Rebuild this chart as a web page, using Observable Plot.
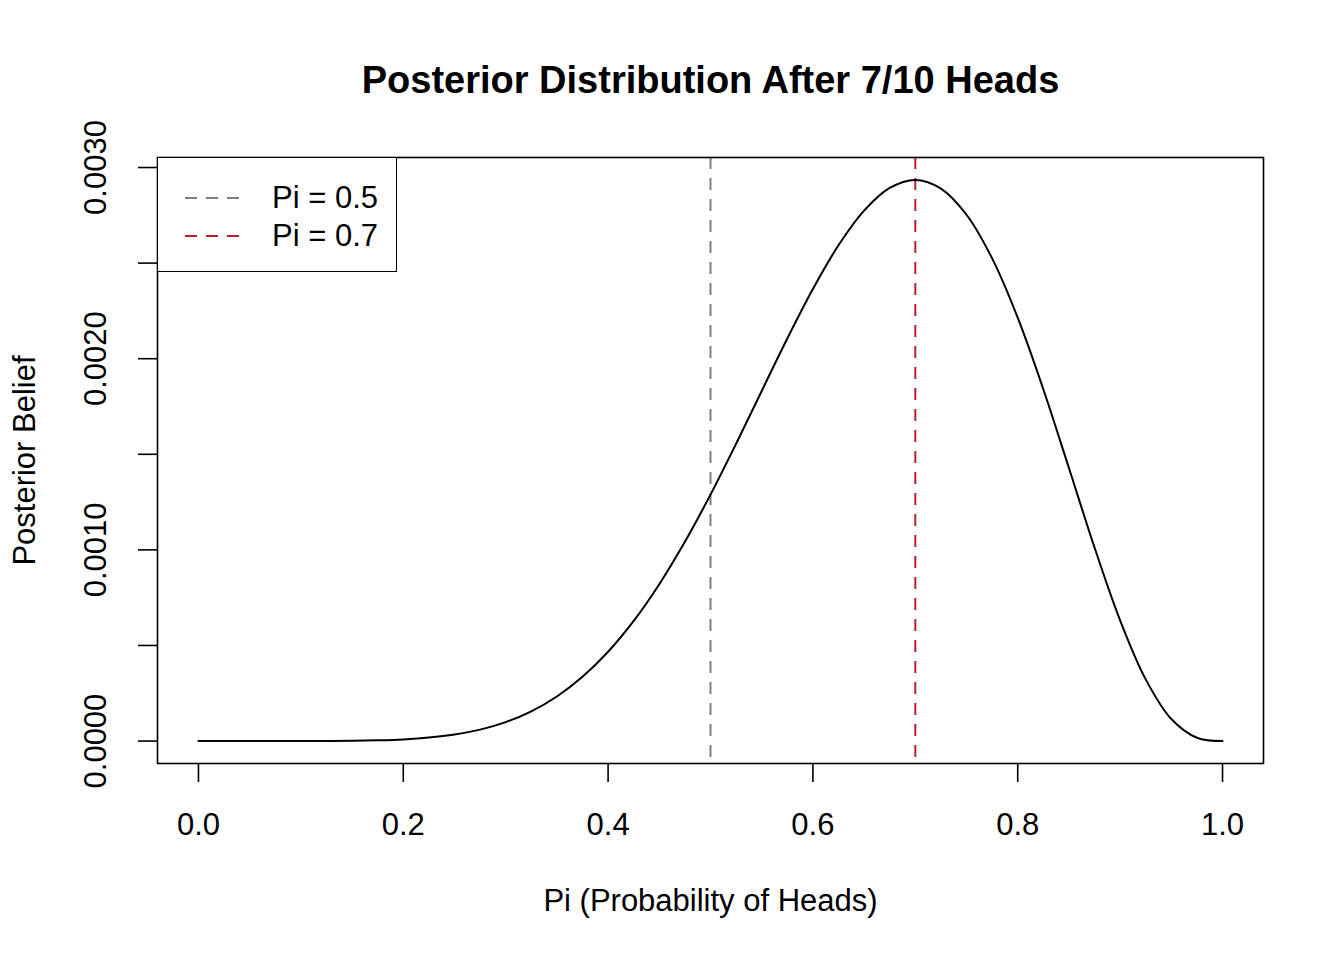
<!DOCTYPE html>
<html>
<head>
<meta charset="utf-8">
<script src="https://cdn.jsdelivr.net/npm/d3@7"></script>
<script src="https://cdn.jsdelivr.net/npm/@observablehq/plot@0.6"></script>
<style>
  html, body { margin: 0; padding: 0; background: #fff; }
  #wrap { position: relative; width: 1344px; height: 960px; font-family: "Liberation Sans", Arial, Helvetica, sans-serif; }
  #legend { position: absolute; left: 157px; top: 157px; width: 238px; height: 113px; border: 1.5px solid #000; background: #fff; box-sizing: content-box; }
  .lg-row { position: absolute; left: 0; display: flex; align-items: center; font-size: 31px; line-height: 1; }
  .lg-row svg { margin-left: 27px; margin-right: 31px; }
</style>
</head>
<body>
<div id="wrap"></div>
<script>
// Grid of pi values and posterior belief
const piGrid = [0.000,0.025,0.050,0.075,0.100,0.125,0.150,0.175,0.200,0.225,0.250,0.275,0.300,0.325,0.350,0.375,0.400,0.425,0.450,0.475,0.500,0.525,0.550,0.575,0.600,0.625,0.650,0.675,0.700,0.725,0.750,0.775,0.800,0.825,0.850,0.875,0.900,0.925,0.950,0.975,1.000];
const posterior = [0,0,0,0,0.0000001,0.0000004,0.0000014,0.0000040,0.0000087,0.0000181,0.0000340,0.0000598,0.0000990,0.0001555,0.0002332,0.0003361,0.0004671,0.0006285,0.0008206,0.0010421,0.0012890,0.0015551,0.0018312,0.0021059,0.0023649,0.0025932,0.0027744,0.0028931,0.0029350,0.0028901,0.0027530,0.0025248,0.0022146,0.0018402,0.0014282,0.0010124,0.0006313,0.0003227,0.0001152,0.0000173,0];
const refValues = [0.5, 0.7];
const refColors = ["#7f7f7f", "#B8202E"];
const refLabels = ["Pi = 0.5", "Pi = 0.7"];
const xTicks = [0, 0.2, 0.4, 0.6, 0.8, 1.0];
const yTicks = [0, 0.0005, 0.001, 0.0015, 0.002, 0.0025, 0.003];
const yLabelTicks = [0, 0.001, 0.002, 0.003];
const titleText = "Posterior Distribution After 7/10 Heads";
const xLabel = "Pi (Probability of Heads)";
const yLabel = "Posterior Belief";

const data = piGrid.map((p, i) => ({pi: p, post: posterior[i]}));
const refs = refValues.map((v, i) => ({v, color: refColors[i]}));

const FONT = "Liberation Sans, Arial, Helvetica, sans-serif";
const DASH = "12,9";

const chart = Plot.plot({
  width: 1344,
  height: 960,
  marginLeft: 157,
  marginRight: 81,
  marginTop: 157,
  marginBottom: 197,
  style: {fontFamily: FONT, fontSize: "31px", color: "#000", background: "#fff"},
  x: {domain: [-0.04, 1.04]},
  y: {domain: [-0.0001174, 0.0030524]},
  marks: [
    Plot.axisX(xTicks, {tickSize: 19, tickPadding: 30, tickFormat: d3.format(".1f"), fontSize: 31, strokeWidth: 1.6, label: null}),
    Plot.axisY(yTicks, {tickSize: 19, tickFormat: () => "", strokeWidth: 1.6, label: null}),
    Plot.text(yLabelTicks, {y: d => d, text: d3.format(".4f"), frameAnchor: "left", dx: -61, rotate: -90, textAnchor: "middle", lineAnchor: "middle", fontSize: 31}),
    Plot.ruleX(refs, {x: "v", stroke: "color", strokeWidth: 2, strokeDasharray: DASH}),
    Plot.line(data, {x: "pi", y: "post", curve: "catmull-rom", stroke: "#000", strokeWidth: 2}),
    Plot.frame({stroke: "#000", strokeWidth: 1.6}),
    Plot.text([titleText], {text: d => d, frameAnchor: "top", dy: -77, fontSize: 38, fontWeight: "bold", lineAnchor: "middle"}),
    Plot.text([xLabel], {text: d => d, frameAnchor: "bottom", dy: 138, fontSize: 31, lineAnchor: "middle"}),
    Plot.text([yLabel], {text: d => d, frameAnchor: "left", dx: -132, rotate: -90, fontSize: 31, textAnchor: "middle", lineAnchor: "middle"})
  ]
});

const wrap = document.getElementById("wrap");
wrap.appendChild(chart);

// Legend overlay
const legend = document.createElement("div");
legend.id = "legend";
refLabels.forEach((lab, i) => {
  const row = document.createElement("div");
  row.className = "lg-row";
  row.style.top = (i === 0 ? 24 : 62) + "px";
  row.innerHTML = `<svg width="56" height="10"><line x1="0" y1="5" x2="56" y2="5" stroke="${refColors[i]}" stroke-width="2" stroke-dasharray="${DASH}"/></svg><span>${lab}</span>`;
  legend.appendChild(row);
});
wrap.appendChild(legend);
</script>
</body>
</html>
